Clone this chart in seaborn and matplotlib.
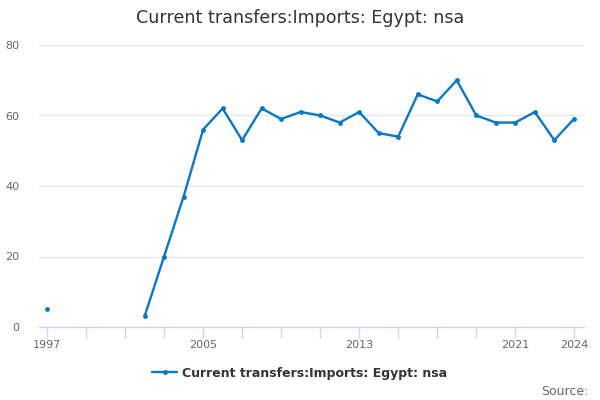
#!/usr/bin/env python3

import numpy as np
import pandas as pd
import seaborn as sns
import matplotlib.pyplot as plt
from matplotlib.lines import Line2D

# data (1998-2001 missing)
years = [1997, 2002, 2003, 2004, 2005, 2006, 2007, 2008, 2009, 2010, 2011, 2012,
         2013, 2014, 2015, 2016, 2017, 2018, 2019, 2020, 2021, 2022, 2023, 2024]
values = [5, 3, 20, 37, 56, 62, 53, 62, 59, 61, 60, 58,
          61, 55, 54, 66, 64, 70, 60, 58, 58, 61, 53, 59]
segments = [0] + [1] * (len(years) - 1)
series_name = 'Current transfers:Imports: Egypt: nsa'
tick_years = list(range(1997, 2022, 2)) + [2024]
label_years = [1997, 2005, 2013, 2021, 2024]

df = pd.DataFrame({'year': years, 'value': values, 'segment': segments})

sns.set_style('white')
plt.rcParams['font.family'] = ['DejaVu Sans']

line_col = '#0a77c0'
fig = plt.figure(figsize=(6, 4), dpi=100)
ax = fig.add_axes([0.065, 0.1825, 0.908, 0.705])

sns.lineplot(data=df, x='year', y='value', units='segment', estimator=None,
             color=line_col, linewidth=1.7, marker='o', markersize=3.5,
             markeredgewidth=0, ax=ax, legend=False)

ax.set_xlim(1996.59, 2024.51)
ax.set_ylim(0, 80)
ax.set_yticks([0, 20, 40, 60, 80])
ax.yaxis.grid(True, color='#e6e6e6', linewidth=1)
ax.set_axisbelow(True)

ax.set_xticks(tick_years)
ax.set_xticklabels([str(y) if y in label_years else '' for y in tick_years])
ax.tick_params(axis='x', bottom=True, direction='out', length=8, width=1,
               color='#ccd6eb', labelsize=8, labelcolor='#666666', pad=1)
ax.tick_params(axis='y', left=False, length=0, labelsize=8,
               labelcolor='#666666', pad=14)

for s in ['top', 'right', 'left']:
    ax.spines[s].set_visible(False)
ax.spines['bottom'].set_color('#ccd6eb')
ax.spines['bottom'].set_linewidth(1)

ax.set_xlabel('')
ax.set_ylabel('')

fig.text(0.5, 0.955, 'Current transfers:Imports: Egypt: nsa', ha='center',
         va='center', fontsize=12.6, color='#333333')

handle = Line2D([], [], color=line_col, linewidth=1.7, marker='o',
                markersize=3.5, markeredgewidth=0)
fig.legend([handle], [series_name], loc='center', bbox_to_anchor=(0.5, 0.067),
           frameon=False, prop={'weight': 'bold', 'size': 9},
           labelcolor='#333333', handlelength=2, handletextpad=0.4)

fig.text(0.98, 0.022, 'Source:', ha='right', va='center', fontsize=9,
         color='#666666')

plt.savefig('out.png', dpi=100)
